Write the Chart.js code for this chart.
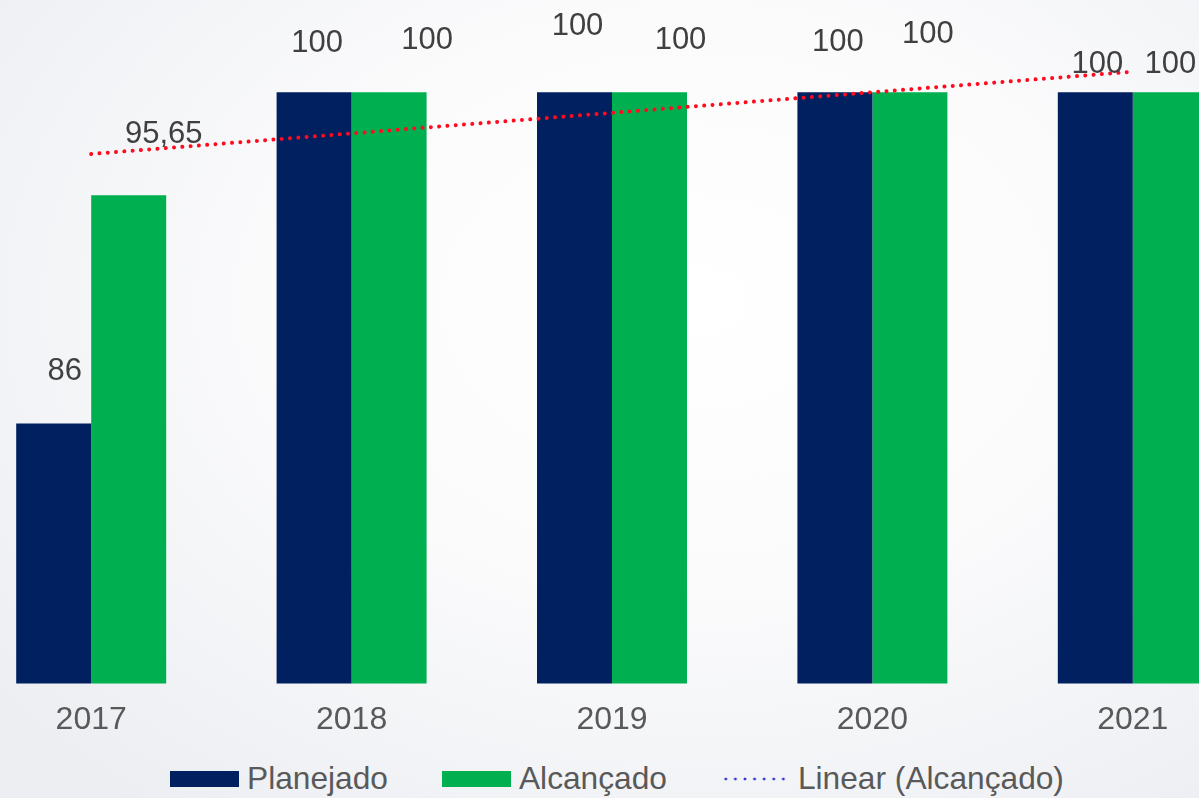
<!DOCTYPE html>
<html>
<head>
<meta charset="utf-8">
<title>Planejado x Alcançado</title>
<script src="https://cdn.jsdelivr.net/npm/chart.js@4.4.1/dist/chart.umd.min.js"></script>
<style>
    html, body { margin: 0; padding: 0; width: 1199px; height: 798px; overflow: hidden; }
    body {
        position: relative;
        font-family: "Liberation Sans", Arial, sans-serif;
        background: radial-gradient(ellipse 75% 80% at 58% 38%, #ffffff 0%, #fbfbfc 45%, #eceef2 100%);
    }
    #grafico { position: absolute; left: -39px; top: 0; }
    #legenda {
        position: absolute; left: 170px; top: 762px; height: 32px;
        display: flex; align-items: center;
        font-size: 31.7px; line-height: 32px; color: #595959; white-space: nowrap;
    }
    #legenda .item { display: flex; align-items: center; margin-right: 54px; }
    #legenda .caixa { width: 69px; height: 16px; margin-right: 8px; margin-top: 2px; }
    #legenda .pontilhado {
        width: 70px; height: 4px; margin-right: 7px; margin-top: 2px;
        background: radial-gradient(circle, #3434d4 1.2px, rgba(52,52,212,0) 1.7px) 0 0 / 9.6px 4px repeat-x;
    }
</style>
</head>
<body>
<canvas id="grafico" width="1302" height="756"></canvas>
<div id="legenda"></div>
<script>
    'use strict';

    var anos = ['2017', '2018', '2019', '2020', '2021'];
    var planejado = [86, 100, 100, 100, 100];
    var alcancado = [95.65, 100, 100, 100, 100];
    // Linear (Alcançado)
    var tendencia = [97.39, 98.26, 99.13, 100.00, 100.87];
    var eixoMin = 75;
    var eixoMax = 103.9;

    // rotulos foram arrastados a mao no original: [dx, altura acima da barra]
    var rotuloPlanejado = [[11, 43], [3, 40], [3, 57], [3, 41], [2, 19]];
    var rotuloAlcancado = [[35, 52], [38, 43], [31, 43], [18, 49], [0, 19]];

    var fonte = '"Liberation Sans", Arial, sans-serif';
    var cinza = '#595959';

    var rotulos = {
        id: 'rotulos',
        afterDatasetsDraw: function(chart){
            var ctx = chart.ctx;
            ctx.save();
            ctx.font = '31px ' + fonte;
            ctx.fillStyle = '#404040';
            ctx.textAlign = 'center';
            ctx.textBaseline = 'alphabetic';
            [rotuloPlanejado, rotuloAlcancado].forEach(function(desloc, d){
                var valores = chart.data.datasets[d].data;
                chart.getDatasetMeta(d).data.forEach(function(barra, i){
                    ctx.fillText(valores[i].toLocaleString('pt-BR'), barra.x + desloc[i][0], barra.y - desloc[i][1]);
                });
            });
            ctx.restore();
        }
    };

    // legenda em html, montada a partir dos datasets
    var legendaHtml = {
        id: 'legendaHtml',
        afterUpdate: function(chart){
            var box = document.getElementById('legenda');
            box.innerHTML = '';
            chart.data.datasets.forEach(function(ds){
                var item = document.createElement('div');
                item.className = 'item';
                var simbolo = document.createElement('span');
                if(ds.type === 'line'){
                    simbolo.className = 'pontilhado';
                } else {
                    simbolo.className = 'caixa';
                    simbolo.style.background = ds.backgroundColor;
                }
                var texto = document.createElement('span');
                texto.textContent = ds.label;
                item.appendChild(simbolo);
                item.appendChild(texto);
                box.appendChild(item);
            });
        }
    };

    new Chart(document.getElementById('grafico').getContext('2d'), {
        type: 'bar',
        data: {
            labels: anos,
            datasets: [
                {
                    label: 'Planejado',
                    data: planejado,
                    backgroundColor: '#002060',
                    categoryPercentage: 0.576,
                    barPercentage: 1,
                    order: 1
                },
                {
                    label: 'Alcançado',
                    data: alcancado,
                    backgroundColor: '#00b050',
                    categoryPercentage: 0.576,
                    barPercentage: 1,
                    order: 1
                },
                {
                    type: 'line',
                    label: 'Linear (Alcançado)',
                    data: tendencia,
                    borderColor: '#ff0a1e',
                    borderWidth: 4,
                    borderDash: [0.01, 8.3],
                    borderCapStyle: 'round',
                    pointRadius: 0,
                    fill: false,
                    tension: 0,
                    order: 0
                }
            ]
        },
        options: {
            responsive: false,
            animation: false,
            devicePixelRatio: 1,
            layout: { padding: 0 },
            scales: {
                x: {
                    grid: { display: false, drawTicks: false },
                    border: { display: false },
                    ticks: {
                        color: cinza,
                        padding: 17,
                        font: { family: fonte, size: 32 }
                    }
                },
                y: {
                    display: false,
                    min: eixoMin,
                    max: eixoMax
                }
            },
            plugins: {
                tooltip: { enabled: false },
                legend: { display: false }
            }
        },
        plugins: [rotulos, legendaHtml]
    });
</script>
</body>
</html>
